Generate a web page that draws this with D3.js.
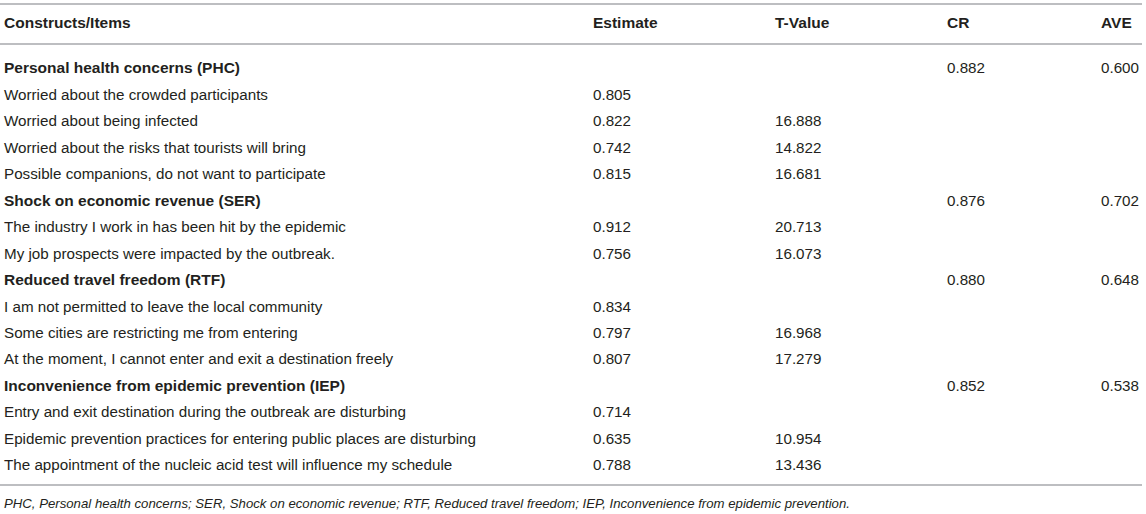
<!DOCTYPE html>
<html>
<head>
<meta charset="utf-8">
<script src="https://cdn.jsdelivr.net/npm/d3@7"></script>
<style>
  body { margin: 0; background: #fff; }
  svg { display: block; font-family: "Liberation Sans", Arial, Helvetica, sans-serif; }
</style>
</head>
<body>
<div id="vis"></div>
<script>
const WIDTH = 1146;
const HEIGHT = 514;

// column headers
const columns = ["Constructs/Items", "Estimate", "T-Value", "CR", "AVE"];

// constructs (bold rows) and their items
const constructs = [
  "Personal health concerns (PHC)",
  "Shock on economic revenue (SER)",
  "Reduced travel freedom (RTF)",
  "Inconvenience from epidemic prevention (IEP)"
];
const crValues = ["0.882", "0.876", "0.880", "0.852"];
const aveValues = ["0.600", "0.702", "0.648", "0.538"];

const items = [
  ["Worried about the crowded participants",
   "Worried about being infected",
   "Worried about the risks that tourists will bring",
   "Possible companions, do not want to participate"],
  ["The industry I work in has been hit by the epidemic",
   "My job prospects were impacted by the outbreak."],
  ["I am not permitted to leave the local community",
   "Some cities are restricting me from entering",
   "At the moment, I cannot enter and exit a destination freely"],
  ["Entry and exit destination during the outbreak are disturbing",
   "Epidemic prevention practices for entering public places are disturbing",
   "The appointment of the nucleic acid test will influence my schedule"]
];
const estimates = [
  ["0.805", "0.822", "0.742", "0.815"],
  ["0.912", "0.756"],
  ["0.834", "0.797", "0.807"],
  ["0.714", "0.635", "0.788"]
];
const tValues = [
  ["", "16.888", "14.822", "16.681"],
  ["20.713", "16.073"],
  ["", "16.968", "17.279"],
  ["", "10.954", "13.436"]
];

const footnote = "PHC, Personal health concerns; SER, Shock on economic revenue; RTF, Reduced travel freedom; IEP, Inconvenience from epidemic prevention.";

// flatten into table rows
const rows = [];
constructs.forEach((c, i) => {
  rows.push({cells: [c, "", "", crValues[i], aveValues[i]], bold: true});
  items[i].forEach((it, j) => {
    rows.push({cells: [it, estimates[i][j], tValues[i][j], "", ""], bold: false});
  });
});

const svg = d3.select("#vis")
  .append("svg")
    .attr("width", WIDTH)
    .attr("height", HEIGHT);

const X_SCALE = d3.scaleOrdinal()
  .domain(columns)
  .range([4, 593, 775, 947, 1101]);

const Y_SCALE = d3.scalePoint()
  .domain(d3.range(rows.length))
  .range([68, 465]);

const TEXT_COLOR = "#231f20";
const LINE_COLOR = "#a7a9ac";
const BODY_SIZE = 15.2;
const BOLD_SIZE = 15.5;

// horizontal rules
[4, 44, 485].forEach((y) => {
  svg.append("line")
    .attr("x1", 0).attr("x2", 1142)
    .attr("y1", y).attr("y2", y)
    .attr("stroke", LINE_COLOR)
    .attr("stroke-width", 1.6);
});

// header
svg.append("g").selectAll("text")
  .data(columns)
  .enter()
  .append("text")
    .attr("x", (d) => X_SCALE(d))
    .attr("y", 23)
    .attr("dy", "0.35em")
    .attr("font-size", BOLD_SIZE)
    .attr("font-weight", "bold")
    .attr("fill", TEXT_COLOR)
    .text((d) => d);

// body rows
const rowG = svg.append("g").selectAll("g")
  .data(rows)
  .enter()
  .append("g")
    .attr("transform", (d, i) => `translate(0, ${Y_SCALE(i)})`);

rowG.selectAll("text")
  .data((d) => d.cells.map((v, k) => ({v: v, col: columns[k], bold: d.bold && k === 0})))
  .enter()
  .append("text")
    .attr("x", (d) => X_SCALE(d.col))
    .attr("dy", "0.35em")
    .attr("font-size", (d) => d.bold ? BOLD_SIZE : BODY_SIZE)
    .attr("font-weight", (d) => d.bold ? "bold" : "normal")
    .attr("fill", TEXT_COLOR)
    .text((d) => d.v);

// footnote
svg.append("text")
  .attr("x", 4)
  .attr("y", 503)
  .attr("dy", "0.35em")
  .attr("font-size", 13.2)
  .attr("font-style", "italic")
  .attr("fill", TEXT_COLOR)
  .text(footnote);
</script>
</body>
</html>
